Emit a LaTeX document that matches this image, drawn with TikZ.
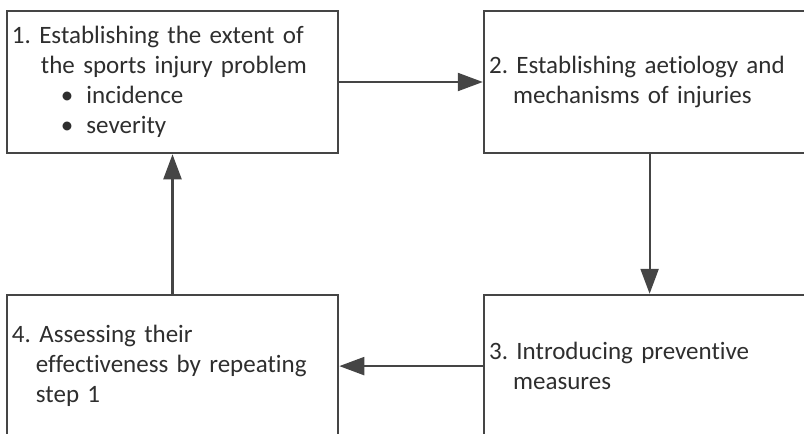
\documentclass[tikz,border=0pt]{standalone}
\usepackage{fontspec}
\setmainfont{Carlito}[Ligatures=NoCommon]
\usepackage{xcolor}
\usetikzlibrary{positioning,arrows.meta}

\definecolor{linegray}{HTML}{454545}
\definecolor{textgray}{HTML}{2E2E2E}

\begin{document}
\frenchspacing
\begin{tikzpicture}[x=1pt,y=-1pt,
        stage/.style={rectangle, draw=linegray, line width=2.6pt, minimum width=331pt, minimum height=142pt,
            text width=321pt, inner xsep=5pt, align=left, text=textgray, font=\fontsize{25}{30}\selectfont},
        flow/.style={draw=linegray, line width=2.2pt, -{Triangle[length=25pt,width=18pt]}}]
    \useasboundingbox (0,0) rectangle (804,434);
    \clip (0,0) rectangle (804,434);
    % the four stages of the sequence
    \node[stage, anchor=north west] (s1) at (5.7,9.7) {1. Establishing the extent of\\
        \hspace*{29pt}the sports injury problem\\
        \hspace*{49pt}\textbullet\hspace{13pt}incidence\\
        \hspace*{49pt}\textbullet\hspace{13pt}severity};
    \node[stage, right=143.5pt of s1] (s2) {2. Establishing aetiology and\\
        \hspace*{24pt}mechanisms of injuries};
    \node[stage, below=139.5pt of s1] (s4) {4. Assessing their\\
        \hspace*{24pt}effectiveness by repeating\\
        \hspace*{24pt}step 1};
    \node[stage, right=143.5pt of s4] (s3) {3. Introducing preventive\\
        \hspace*{24pt}measures};
    % arrows round the loop
    \draw[flow] (s1) -- (s2);
    \draw[flow] (s2) -- (s3);
    \draw[flow] (s3) -- (s4);
    \draw[flow] (s4) -- (s1);
\end{tikzpicture}
\end{document}
